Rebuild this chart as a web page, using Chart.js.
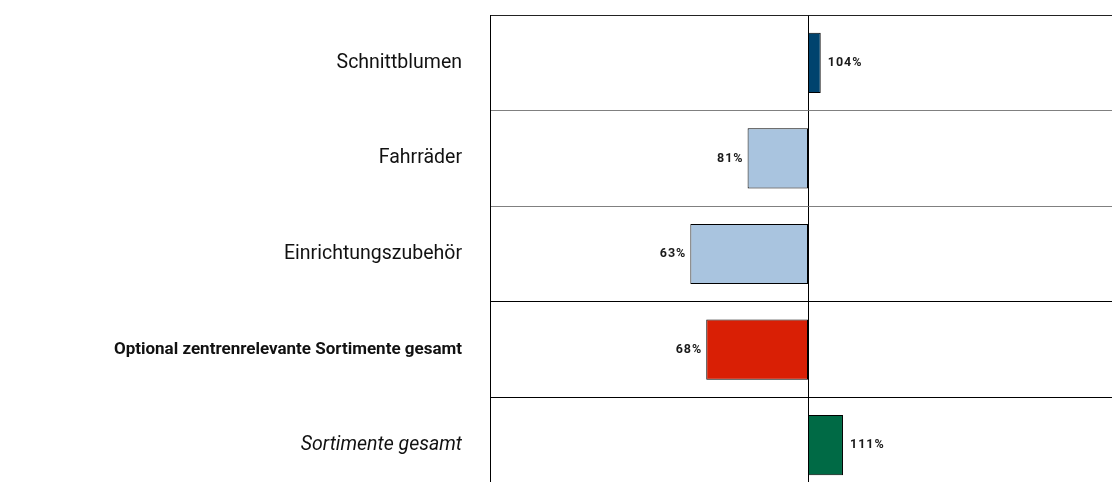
<!DOCTYPE html>
<html>
    <head>
        <title>Sortimente</title>
        <meta charset="UTF-8">
        <style>
          html, body { margin: 0; padding: 0; background: #fff; overflow: hidden; }
          #wrap { position: absolute; left: 0; top: 0; width: 1128px; height: 493px; }
        </style>
    </head>
    <body>
        <div id="wrap"><canvas id="barChart"></canvas></div>
        <script src="https://cdn.jsdelivr.net/npm/chart.js/dist/chart.umd.min.js"></script>
        <script>
          // categories and values (percent, base line is 100%)
          const categories = ['Schnittblumen', 'Fahrräder', 'Einrichtungszubehör', 'Optional zentrenrelevante Sortimente gesamt', 'Sortimente gesamt'];
          const values = [104, 81, 63, 68, 111];
          const barColors = ['#00436e', '#a9c4df', '#a9c4df', '#d91f05', '#006a45'];
          const baseValue = 100;

          // grid line colours of the row separators (top to bottom)
          const rowLineColors = ['#222222', '#808080', '#808080', '#000000', '#000000', '#000000'];

          // draw "104%" etc next to the bar end
          const valueLabels = {
            id: 'valueLabels',
            afterDatasetsDraw(chart){
              const ctx = chart.ctx;
              const meta = chart.getDatasetMeta(0);
              const xScale = chart.scales.x;
              ctx.save();
              ctx.font = 'bold 12.5px Roboto';
              ctx.letterSpacing = '1px';
              ctx.fillStyle = '#1a1a1a';
              ctx.textBaseline = 'middle';
              meta.data.forEach((bar, i) => {
                const v = values[i];
                const px = xScale.getPixelForValue(v);
                if(v >= baseValue){
                  ctx.textAlign = 'left';
                  ctx.fillText(v + '%', px + 7, bar.y);
                } else {
                  ctx.textAlign = 'right';
                  ctx.fillText(v + '%', px - 4, bar.y);
                }
              });
              ctx.restore();
            }
          };

          const CHART = document.getElementById('barChart');
          let barChart = new Chart(CHART, {
            type: 'bar',
            data: {
              labels: categories,
              datasets: [
                {
                  data: values.map(v => [baseValue, v]),
                  backgroundColor: barColors,
                  borderColor: '#000000',
                  borderWidth: 1,
                  borderSkipped: false,
                  barPercentage: 0.63,
                  categoryPercentage: 1
                }
              ]
            },
            options: {
              indexAxis: 'y',
              responsive: true,
              maintainAspectRatio: false,
              animation: false,
              layout: { padding: { top: 15, right: 2, bottom: 0, left: 0 } },
              plugins: {
                legend: { display: false },
                tooltip: { enabled: false }
              },
              scales: {
                x: {
                  min: 0,
                  max: 200,
                  ticks: { display: false, stepSize: 100 },
                  border: { display: false },
                  grid: {
                    drawTicks: false,
                    color: (c) => c.tick && c.tick.value === baseValue ? '#000000' : 'rgba(0,0,0,0)',
                    lineWidth: 1
                  },
                  afterFit(scale){ scale.height = 0; scale.paddingLeft = 0; scale.paddingRight = 0; }
                },
                y: {
                  border: { display: true, color: '#000000', width: 1 },
                  grid: {
                    offset: true,
                    drawTicks: false,
                    color: (c) => rowLineColors[c.index] || '#000000',
                    lineWidth: 1
                  },
                  ticks: {
                    padding: 28,
                    color: '#111111',
                    font: (c) => {
                      if(c.index === 3) return { family: 'Roboto', size: 17, weight: 'bold' };
                      if(c.index === 4) return { family: 'Roboto', size: 19.5, style: 'italic' };
                      return { family: 'Roboto', size: 19.5 };
                    }
                  },
                  afterFit(scale){ scale.width = 490; scale.paddingTop = 0; scale.paddingBottom = 0; }
                }
              }
            },
            plugins: [valueLabels]
          });
        </script>
    </body>
</html>
